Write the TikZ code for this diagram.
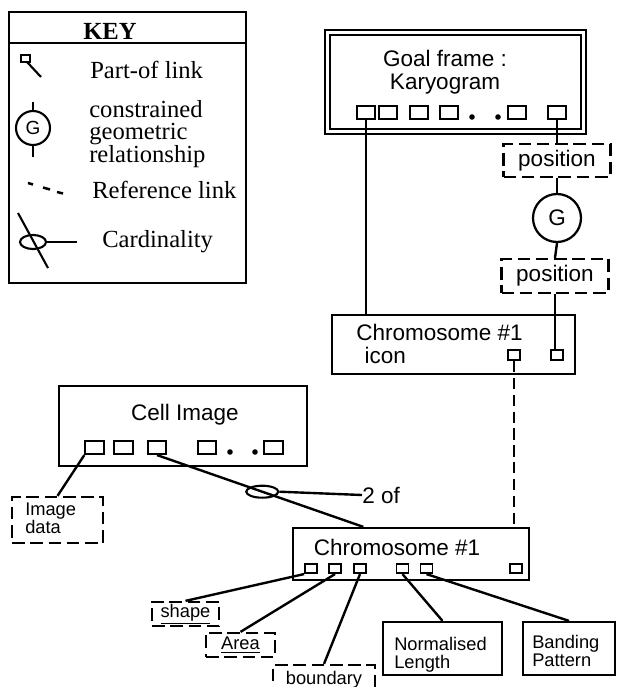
\documentclass[tikz,border=0pt]{standalone}
\usepackage{fontspec}
\setmainfont{Liberation Sans}
\newfontfamily\keyfont{Liberation Serif}
\usetikzlibrary{shapes.geometric,calc}

\begin{document}
\begin{tikzpicture}[x=0.25mm,y=-0.25mm,
  link/.style={line width=1.7pt},
  reflink/.style={line width=1.7pt,dash pattern=on 8pt off 4pt},
  frame/.style={draw,line width=1.6pt,inner sep=0pt},
  attr/.style={draw,line width=1.6pt,dash pattern=on 9pt off 4pt,inner sep=0pt},
  slot/.style={draw,line width=1.4pt,inner sep=0pt,minimum width=4.6mm,minimum height=3.3mm},
  sslot/.style={slot,minimum width=3mm,minimum height=2.5mm},
  bigtxt/.style={font=\fontsize{16}{16.3}\selectfont,inner sep=0pt},
  smalltxt/.style={font=\fontsize{13}{12.5}\selectfont,inner sep=0pt,align=left},
  keytxt/.style={font=\keyfont\fontsize{17.5}{16}\selectfont,inner sep=0pt,anchor=west,align=left}]
\useasboundingbox (0,0) rectangle (617,687);
\clip (0,0) rectangle (617,687);

% Key
\draw[line width=1.9pt] (9,12) rectangle (246,283);
\draw[line width=1.9pt] (9,43) -- (246,43);
\node[font=\keyfont\bfseries\fontsize{17.5}{16}\selectfont] (keyhead) at (110,31) {KEY};
\draw[line width=1.5pt] (21,55) rectangle (30,62);
\draw[line width=1.5pt] (27,62) -- (41,77);
\node[keytxt] (keypart) at (90,70) {Part-of link};
\draw[line width=1.5pt] (33,128) circle (17);
\draw[line width=1.5pt] (33,102) -- (33,111) (33,145) -- (33,157);
\node[font=\fontsize{13.5}{13.5}\selectfont] (keyg) at (33,128) {G};
\node[keytxt] (keygeo) at (89,134) {constrained\\geometric\\relationship};
\draw[line width=1.8pt] (28,183) -- (33,184.5) (43,187.5) -- (50,189.5) (57,192) -- (63,193.5);
\node[keytxt] (keyref) at (92,190) {Reference link};
\draw[line width=1.5pt] (18,213) -- (48,268);
\draw[line width=1.5pt] (33,242) ellipse (13 and 7);
\draw[line width=1.5pt] (46,242) -- (77,242);
\node[keytxt] (keycard) at (102,242) {Cardinality};

% Goal frame
\node[frame,double,double distance=2.2pt,line width=1.4pt,minimum width=63.9mm,minimum height=24.75mm] (goal) at (455.75,82) {};
\node[bigtxt,align=center] (goaltxt) at (445,72) {Goal frame :\\Karyogram};
\foreach \x [count=\i] in {366,388,419,449,517,557}
  \node[slot] (g\i) at (\x,112.5) {};
\foreach \x in {472,498} \fill (\x,117) circle (2.8);

\node[attr,bigtxt,minimum width=26.75mm,minimum height=8.25mm] (pos1) at (557,160.5) {position};
\node[draw,circle,line width=1.6pt,minimum size=12mm,bigtxt] (geo) at (557,218) {G};
\node[attr,bigtxt,minimum width=26.75mm,minimum height=8.5mm] (pos2) at (555,276) {position};

% Chromosome icon
\node[frame,minimum width=60.75mm,minimum height=14.75mm] (icon) at (453.5,344.5) {};
\node[bigtxt,anchor=west,align=left] (icontxt) at (356,343.5) {Chromosome \#1\\\hspace*{6pt}icon};
\node[sslot] (i1) at (514,355) {};
\node[sslot] (i2) at (557,355) {};

\draw[link] (g1.south) -- (g1.south |- icon.north);
\draw[link] (g6.south) -- (pos1.north);
\draw[link] (pos1.south) -- (geo.north);
\draw[link] (geo.south) -- (pos2.north);
\draw[link] (pos2.south) -- (pos2.south |- i2.north);

% Cell image
\node[frame,minimum width=62mm,minimum height=20mm] (cell) at (183,426) {};
\node[bigtxt] (celltxt) at (185,415) {Cell Image};
\foreach \x [count=\i] in {94.5,123.5,157,207,273.5}
  \node[slot] (c\i) at (\x,447.5) {};
\foreach \x in {230,255} \fill (\x,452) circle (2.8);

\node[attr,minimum width=22.75mm,minimum height=11.5mm] (imgdata) at (57.5,520) {};
\node[smalltxt,anchor=west] (imgtxt) at (25,518.5) {Image\\data};

% Chromosome
\node[frame,minimum width=59mm,minimum height=13mm] (chrom) at (411,554) {};
\node[bigtxt] (chromtxt) at (397,547) {Chromosome \#1};
\foreach \x [count=\i] in {311,335,360,402.5,426.5,516}
  \node[slot,minimum width=3mm,minimum height=2.3mm] (k\i) at (\x,568.5) {};

\draw[reflink] (i1.south) -- (i1.south |- chrom.north);
\draw[link] (c1.south west) -- (imgdata.north);
\draw[link] (c3.south) -- coordinate[pos=0.51] (cardpt) ($(chrom.north west)!0.3!(chrom.north east)$);
\node[draw,ellipse,line width=1.5pt,minimum width=8mm,minimum height=3mm,inner sep=0pt] (card) at (cardpt) {};
\node[bigtxt,anchor=west] (twoof) at (362,495) {2 of};
\draw[link] (card.east) -- (twoof.west);

% Attributes
\node[attr,smalltxt,minimum width=16.75mm,minimum height=6mm] (shape) at (185.5,614) {\underline{shape}};
\node[attr,smalltxt,minimum width=17.25mm,minimum height=6mm] (area) at (240.5,645) {\underline{Area}};
\node[attr,smalltxt,minimum width=25.5mm,minimum height=7.5mm] (boundary) at (324,680) {boundary};
\node[frame,minimum width=29.75mm,minimum height=13.25mm] (normlen) at (442.5,648.5) {};
\node[smalltxt,anchor=west] (normtxt) at (394,655) {Normalised\\Length};
\node[frame,minimum width=23mm,minimum height=13.25mm] (banding) at (569,648.5) {};
\node[smalltxt,anchor=west] (bandtxt) at (532,651) {Banding\\Pattern};

\draw[link] (k1.south west) -- (shape.north);
\draw[link] (k2.south) -- (area.north);
\draw[link] (k3.south) -- (boundary.north);
\draw[link] (k4.south) -- (normlen.north);
\draw[link] (k5.south) -- (banding.north);
\end{tikzpicture}
\end{document}
